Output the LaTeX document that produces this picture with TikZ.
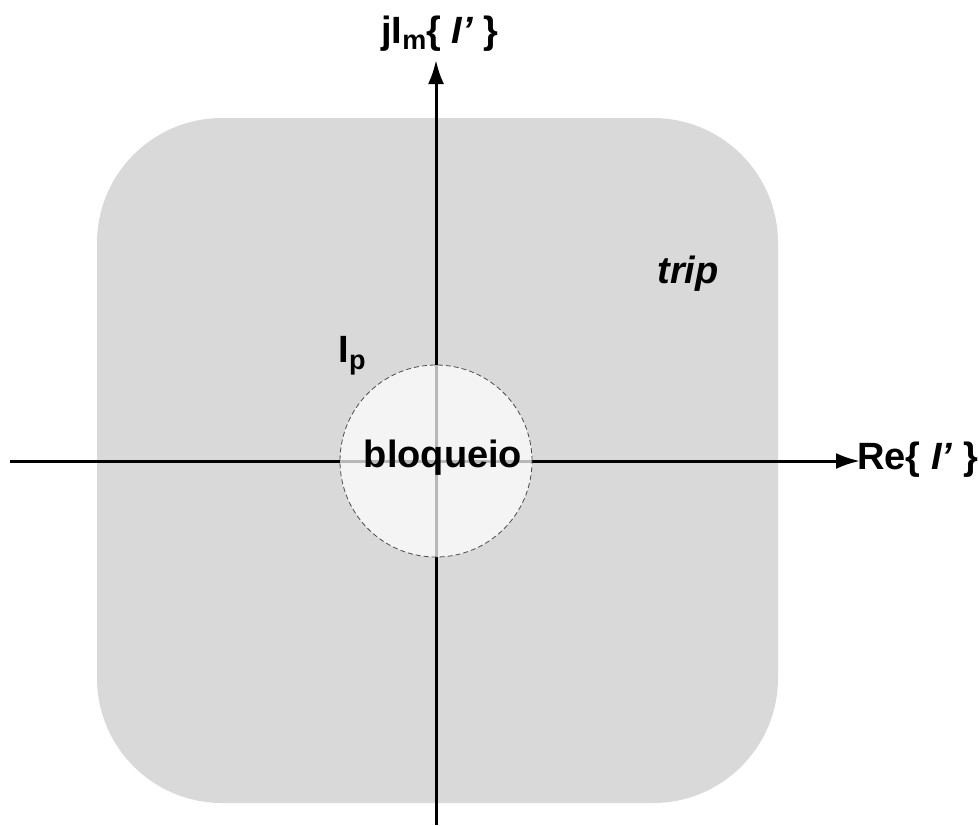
\documentclass[tikz,border=0pt]{standalone}
\usepackage{fontspec}
\setmainfont{Liberation Sans}
\usetikzlibrary{arrows.meta}
\definecolor{regiongray}{HTML}{D9D9D9}
\begin{document}
\begin{tikzpicture}[x=1pt,y=-1pt,
  axis/.style={line width=3pt,-{Latex[length=24pt,width=16pt]}},
  lbl/.style={font=\fontsize{38}{42}\selectfont\bfseries,inner sep=0pt}]
\useasboundingbox (0,0) rectangle (979,825);
\fill[regiongray,rounded corners=125pt] (97,118) rectangle (778,803);
\coordinate (xl) at (10,461);
\coordinate (xr) at (860,461);
\coordinate (yb) at (436,825);
\coordinate (yt) at (436,60);
\draw[axis] (xl) -- (xr);
\draw[axis] (yb) -- (yt);
\node[circle,minimum size=192pt,inner sep=0pt,fill=white,fill opacity=0.72,draw=black!70,dash pattern=on 5pt off 3pt,line width=0.8pt] (blk) at (436,461) {};
\node[lbl,anchor=center] (bl) at (443,458) {bloqueio};
\node[lbl,anchor=center] (ip) at (352,356) {I\raisebox{-0.35ex}{\fontsize{27}{29}\selectfont p}};
\node[lbl,anchor=center] (tr) at (688,274) {\itshape trip};
\node[lbl,anchor=west] (re) at (857,460) {Re\{ \textit{I’} \}};
\node[lbl,anchor=center] (im) at (440,34) {jI\raisebox{-0.3ex}{\fontsize{27}{29}\selectfont m}\{ \textit{I’} \}};
\end{tikzpicture}
\end{document}
